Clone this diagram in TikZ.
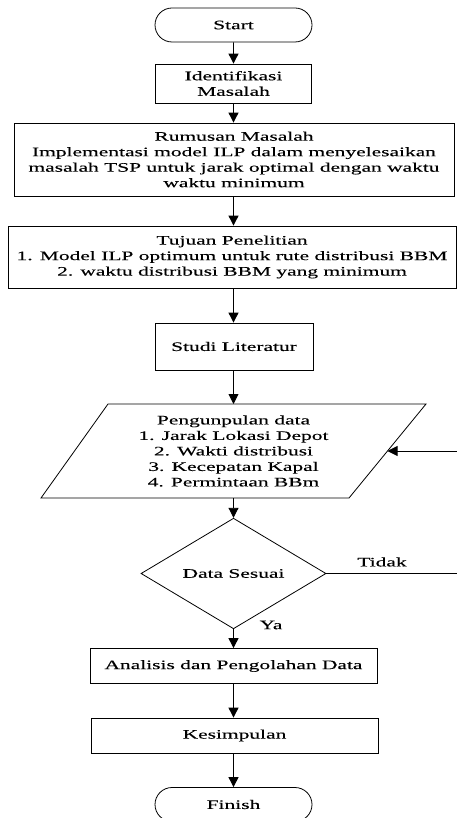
\documentclass[tikz,border=0pt]{standalone}
\usepackage{fontspec}
\setmainfont[FakeStretch=1.65,FakeBold=0.15]{Liberation Serif}
\usetikzlibrary{shapes.geometric,shapes.misc,arrows.meta}
\begin{document}
\begin{tikzpicture}[x=1pt,y=-1pt,
  every node/.style={font=\fontsize{13}{15.5}\selectfont, inner sep=0pt, align=center},
  box/.style={draw, line width=0.8pt, rectangle},
  term/.style={draw, line width=0.8pt, rounded rectangle, minimum width=157pt, minimum height=34pt},
  dec/.style={draw, line width=0.8pt, diamond, minimum width=185pt, minimum height=80pt},
  arr/.style={line width=0.9pt, -{Triangle[length=10pt,width=10pt]}},
  ln/.style={line width=0.8pt}]
\useasboundingbox (0,0) rectangle (457,818);
\node[term] (start) at (233.5,25) {Start};
\node[box, minimum width=156pt, minimum height=39pt] (ident) at (233.5,83.5) {Identifikasi\\Masalah};
\node[box, minimum width=440pt, minimum height=73pt] (rumus) at (234,159.5)
  {Rumusan Masalah\\Implementasi model ILP dalam menyelesaikan\\masalah TSP untuk jarak optimal dengan waktu\\waktu minimum};
\node[box, minimum width=448pt, minimum height=62pt] (tujuan) at (232,257)
  {Tujuan Penelitian\\1. Model ILP optimum untuk rute distribusi BBM\\2. waktu distribusi BBM yang minimum};
\node[box, minimum width=158pt, minimum height=47pt] (studi) at (234,346.5) {Studi Literatur};
% parallelogram
\coordinate (ptl) at (108,404);
\coordinate (ptr) at (426,404);
\coordinate (pbr) at (349,498);
\coordinate (pbl) at (41,498);
\draw[ln] (ptl) -- (ptr) -- (pbr) -- (pbl) -- cycle;
\coordinate (ptop) at (233.5,404);
\coordinate (pbot) at (233.5,498);
\coordinate (pright) at (387.5,451);
\node (data) at (233.5,451) {Pengunpulan data\\1. Jarak Lokasi Depot\\2. Wakti distribusi\\3. Kecepatan Kapal\\4. Permintaan BBm};
\node[dec] (cek) at (233.5,573.5) {Data Sesuai};
\node (tidak) at (382,562) {Tidak};
\node (ya) at (271,625) {Ya};
\node[box, minimum width=287pt, minimum height=35pt] (anal) at (233.5,666) {Analisis dan Pengolahan Data};
\node[box, minimum width=287pt, minimum height=35pt] (kes) at (234.5,735.5) {Kesimpulan};
\node[term] (finish) at (233.5,804.5) {Finish};
\coordinate (fb1) at (459,573.5);
\coordinate (fb2) at (459,451);
% connectors
\draw[arr] (start) -- (ident);
\draw[arr] (ident.south) -- (ident.south |- rumus.north);
\draw[arr] (ident.south |- rumus.south) -- (ident.south |- tujuan.north);
\draw[arr] (ident.south |- tujuan.south) -- (ident.south |- studi.north);
\draw[arr] (ident.south |- studi.south) -- (ptop);
\draw[arr] (pbot) -- (cek);
\draw[arr] (cek) -- (anal);
\draw[arr] (anal.south) -- (anal.south |- kes.north);
\draw[arr] (anal.south |- kes.south) -- (finish);
\draw[arr] (cek.east) -- (fb1) -- (fb2) -- (pright);
\end{tikzpicture}
\end{document}
